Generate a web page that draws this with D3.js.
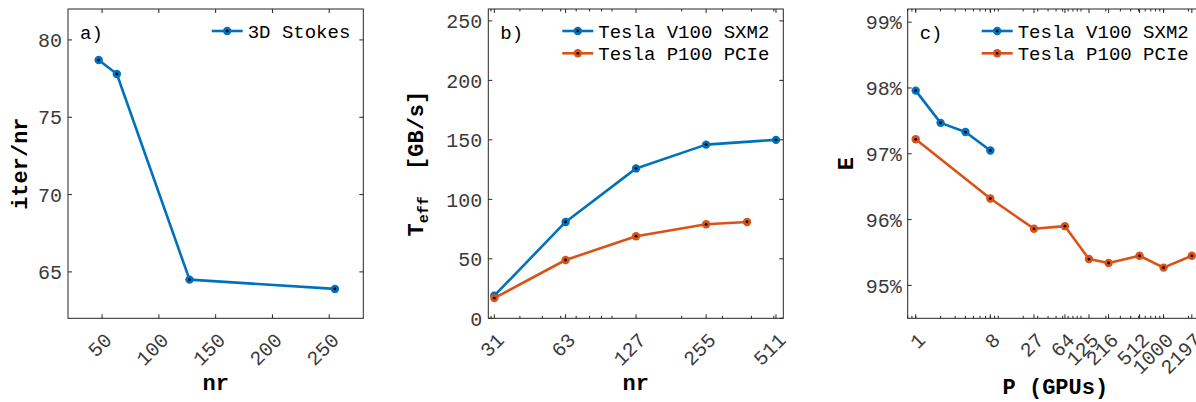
<!DOCTYPE html>
<html>
<head>
<meta charset="utf-8">
<script src="https://cdn.jsdelivr.net/npm/d3@7"></script>
<style>
  html, body { margin: 0; padding: 0; background: #fff; }
  svg { display: block; }
  text { font-family: "Liberation Mono", "DejaVu Sans Mono", monospace; }
</style>
</head>
<body>
<svg id="chart" width="1196" height="402"></svg>
<script>
// a) iterations per radial resolution
const nrStokes = [47, 63, 127, 255];
const iterPerNr = [78.7, 77.8, 64.5, 63.9];

// b) effective memory throughput
const nrV100 = [31, 63, 127, 255, 511];
const teffV100 = [19, 81, 126, 146, 150];
const nrP100 = [31, 63, 127, 255, 383];
const teffP100 = [17, 49, 69, 79, 81];

// c) weak scaling parallel efficiency
const gpusV100 = [1, 2, 4, 8];
const effV100 = [97.96, 97.47, 97.33, 97.05];
const gpusP100 = [1, 8, 27, 64, 125, 216, 512, 1000, 2197];
const effP100 = [97.22, 96.32, 95.86, 95.90, 95.40, 95.34, 95.45, 95.27, 95.45];

// tick values and labels
const xTicksA = [50, 100, 150, 200, 250];
const yTicksA = [65, 70, 75, 80];
const xTicksB = [31, 63, 127, 255, 511];
const yTicksB = [0, 50, 100, 150, 200, 250];
const xTicksC = [1, 8, 27, 64, 125, 216, 512, 1000, 2197];
const yTicksC = [95, 96, 97, 98, 99];

const BLUE = "#0072BD", ORANGE = "#D95319", AXIS = "#262626";
const svg = d3.select("#chart");
const boxTop = 9, boxBottom = 318.3;

function logMinor(domain) {
  const out = [];
  for (let e = -1; e <= 4; e++) {
    for (let m = 1; m <= 9; m++) {
      const v = m * Math.pow(10, e);
      if (v >= domain[0] && v <= domain[1]) out.push(v);
    }
  }
  return out;
}

function panel(cfg) {
  const g = svg.append("g");
  const x = cfg.x, y = cfg.y;
  const [x0, x1] = x.range();
  const tick = 4, minor = 2.5;

  // series
  cfg.series.forEach(s => {
    const pts = s.xs.map((v, i) => [x(v), y(s.ys[i])]);
    g.append("path")
      .attr("d", d3.line()(pts))
      .attr("fill", "none").attr("stroke", s.color)
      .attr("stroke-width", 2.6).attr("stroke-linejoin", "round");
    g.selectAll(null).data(pts).join("circle")
      .attr("cx", d => d[0]).attr("cy", d => d[1]).attr("r", 4.2)
      .attr("fill", s.color);
    g.selectAll(null).data(pts).join("circle")
      .attr("cx", d => d[0]).attr("cy", d => d[1]).attr("r", 1.4)
      .attr("fill", "#000");
  });

  // box
  g.append("rect")
    .attr("x", x0).attr("y", boxTop).attr("width", x1 - x0).attr("height", boxBottom - boxTop)
    .attr("fill", "none").attr("stroke", AXIS).attr("stroke-width", 1);

  // minor ticks (log axes)
  if (cfg.minor) {
    cfg.minor.forEach(v => {
      const px = x(v);
      g.append("line").attr("x1", px).attr("x2", px).attr("y1", boxBottom).attr("y2", boxBottom - minor)
        .attr("stroke", AXIS);
      g.append("line").attr("x1", px).attr("x2", px).attr("y1", boxTop).attr("y2", boxTop + minor)
        .attr("stroke", AXIS);
    });
  }
  // major x ticks, inward on both sides
  cfg.xTicks.forEach(v => {
    const px = x(v);
    g.append("line").attr("x1", px).attr("x2", px).attr("y1", boxBottom).attr("y2", boxBottom - tick)
      .attr("stroke", AXIS);
    g.append("line").attr("x1", px).attr("x2", px).attr("y1", boxTop).attr("y2", boxTop + tick)
      .attr("stroke", AXIS);
    g.append("text")
      .attr("transform", `translate(${px + 1},${boxBottom + 13}) rotate(-45)`)
      .attr("text-anchor", "end").attr("dy", "0.7em")
      .attr("font-size", 20).attr("fill", "#3a3a3a")
      .text(cfg.xFormat ? cfg.xFormat(v) : v);
  });
  // y ticks
  cfg.yTicks.forEach(v => {
    const py = y(v);
    g.append("line").attr("x1", x0).attr("x2", x0 + tick).attr("y1", py).attr("y2", py)
      .attr("stroke", AXIS);
    g.append("line").attr("x1", x1).attr("x2", x1 - tick).attr("y1", py).attr("y2", py)
      .attr("stroke", AXIS);
    g.append("text")
      .attr("x", x0 - 6).attr("y", py).attr("dy", "0.36em")
      .attr("text-anchor", "end").attr("font-size", 20).attr("fill", "#3a3a3a")
      .text(cfg.yFormat ? cfg.yFormat(v) : v);
  });

  // panel tag
  g.append("text").attr("x", x0 + 12).attr("y", 39)
    .attr("font-size", 19).attr("fill", "#000").text(cfg.tag);

  // legend
  cfg.series.forEach((s, i) => {
    const ly = 31 + i * 22.3;
    g.append("line").attr("x1", cfg.legendX).attr("x2", cfg.legendX + 31)
      .attr("y1", ly).attr("y2", ly).attr("stroke", s.color).attr("stroke-width", 2.6);
    g.append("circle").attr("cx", cfg.legendX + 15.5).attr("cy", ly).attr("r", 4.2).attr("fill", s.color);
    g.append("circle").attr("cx", cfg.legendX + 15.5).attr("cy", ly).attr("r", 1.4).attr("fill", "#000");
    g.append("text").attr("x", cfg.legendX + 36).attr("y", ly).attr("dy", "0.36em")
      .attr("font-size", 19).attr("fill", "#000").text(s.name);
  });

  // x label
  g.append("text").attr("x", (x0 + x1) / 2).attr("y", cfg.xLabelY)
    .attr("text-anchor", "middle").attr("font-size", 22).attr("font-weight", "bold")
    .attr("fill", "#000").text(cfg.xLabel);

  // y label
  const yl = g.append("text")
    .attr("transform", `translate(${cfg.yLabelX},${(boxTop + boxBottom) / 2}) rotate(-90)`)
    .attr("text-anchor", "middle").attr("font-size", 22).attr("font-weight", "bold")
    .attr("fill", "#000");
  cfg.yLabel(yl);
}

// a)
panel({
  x: d3.scaleLinear().domain([20, 280]).range([68, 363.3]),
  y: d3.scaleLinear().domain([62, 82]).range([boxBottom, boxTop]),
  xTicks: xTicksA, yTicks: yTicksA,
  series: [{ name: "3D Stokes", xs: nrStokes, ys: iterPerNr, color: BLUE }],
  tag: "a)", legendX: 211.7,
  xLabel: "nr", xLabelY: 390,
  yLabelX: 27, yLabel: t => t.text("iter/nr")
});

// b)
const xB = d3.scaleLog().domain([29.2, 549.5]).range([488.3, 783.3]);
panel({
  x: xB,
  y: d3.scaleLinear().domain([0, 260]).range([boxBottom, boxTop]),
  xTicks: xTicksB, yTicks: yTicksB, minor: logMinor(xB.domain()),
  series: [
    { name: "Tesla V100 SXM2", xs: nrV100, ys: teffV100, color: BLUE },
    { name: "Tesla P100 PCIe", xs: nrP100, ys: teffP100, color: ORANGE }
  ],
  tag: "b)", legendX: 562.3,
  xLabel: "nr", xLabelY: 390,
  yLabelX: 423, yLabel: t => {
    t.append("tspan").text("T");
    t.append("tspan").attr("dy", 5).attr("font-size", 15).text("eff");
    t.append("tspan").attr("dy", -5).text("\u00a0\u00a0[GB/s]");
  }
});

// c)
const xC = d3.scaleLog().domain([0.8, 3000]).range([907.7, 1203]);
panel({
  x: xC,
  y: d3.scaleLinear().domain([94.5, 99.2]).range([boxBottom, boxTop]),
  xTicks: xTicksC, yTicks: yTicksC, minor: logMinor(xC.domain()),
  yFormat: v => v + "%",
  series: [
    { name: "Tesla V100 SXM2", xs: gpusV100, ys: effV100, color: BLUE },
    { name: "Tesla P100 PCIe", xs: gpusP100, ys: effP100, color: ORANGE }
  ],
  tag: "c)", legendX: 981.7,
  xLabel: "P (GPUs)", xLabelY: 394,
  yLabelX: 853, yLabel: t => t.text("E")
});
</script>
</body>
</html>
